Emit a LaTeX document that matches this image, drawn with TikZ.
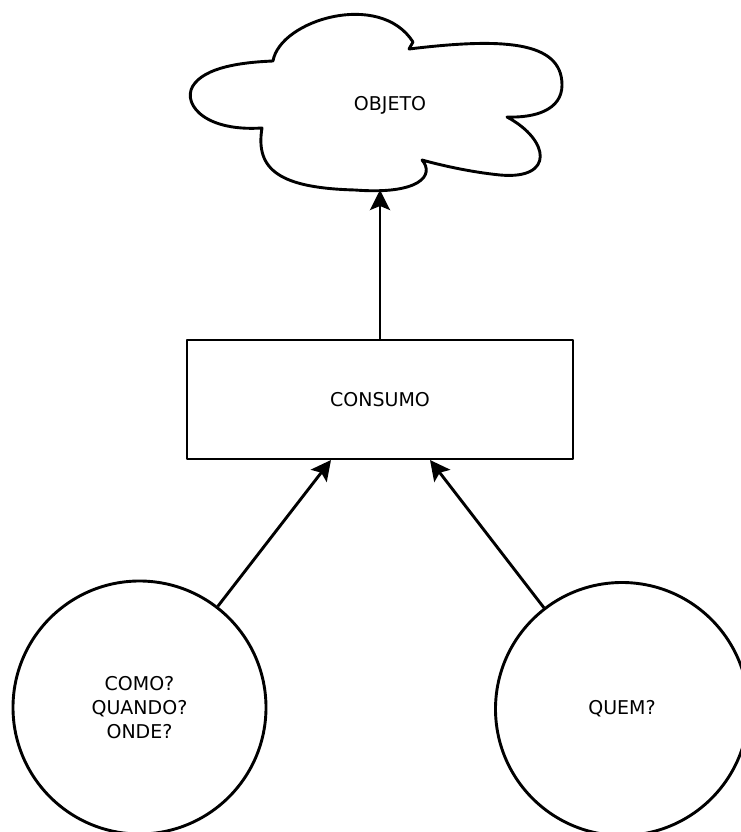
\documentclass[tikz,border=0pt]{standalone}
\usepackage{fontspec}
\setmainfont{DejaVu Sans}
\usetikzlibrary{arrows.meta}
\begin{document}
\begin{tikzpicture}[x=1pt,y=-1pt,
  every node/.style={font=\fontsize{19}{24}\selectfont},
  outline/.style={line width=2.9pt, line join=round},
  question/.style={outline, draw, circle, minimum size=253pt, inner sep=0pt, align=center},
  stage/.style={outline, draw, rectangle, minimum width=386pt, minimum height=119pt},
  link/.style={line width=2.9pt, -{Stealth[length=20pt,width=20pt,inset=4pt]}}]
\useasboundingbox (0,0) rectangle (741,832);

% cloud outline
\draw[outline]
  (273,61) .. controls (280,20) and (380,-10) .. (413,42) -- (409,49)
  .. controls (500,38) and (562,40) .. (562,85)
  .. controls (562,110) and (535,118) .. (507,117)
  .. controls (550,140) and (555,180) .. (500,175)
  .. controls (470,172) and (440,165) .. (422,160)
  .. controls (435,175) and (420,195) .. (355,190)
  .. controls (280,188) and (255,170) .. (262,128)
  .. controls (200,132) and (180,100) .. (195,83)
  .. controls (210,65) and (250,62) .. (273,61) -- cycle;
\node (objeto) at (390,105) {OBJETO};
\coordinate (cloudbottom) at (380,190);

\node[stage] (consumo) at (380,399.5) {CONSUMO};
\coordinate (inleft) at (331,460);
\coordinate (inright) at (430,460);

\node[question] (como) at (139.5,707.5) {COMO?\\QUANDO?\\ONDE?};
\node[question] (quem) at (622,709) {QUEM?};

\draw[link] (consumo.north) -- (cloudbottom);
\draw[link] (como) -- (inleft);
\draw[link] (quem) -- (inright);
\end{tikzpicture}
\end{document}
